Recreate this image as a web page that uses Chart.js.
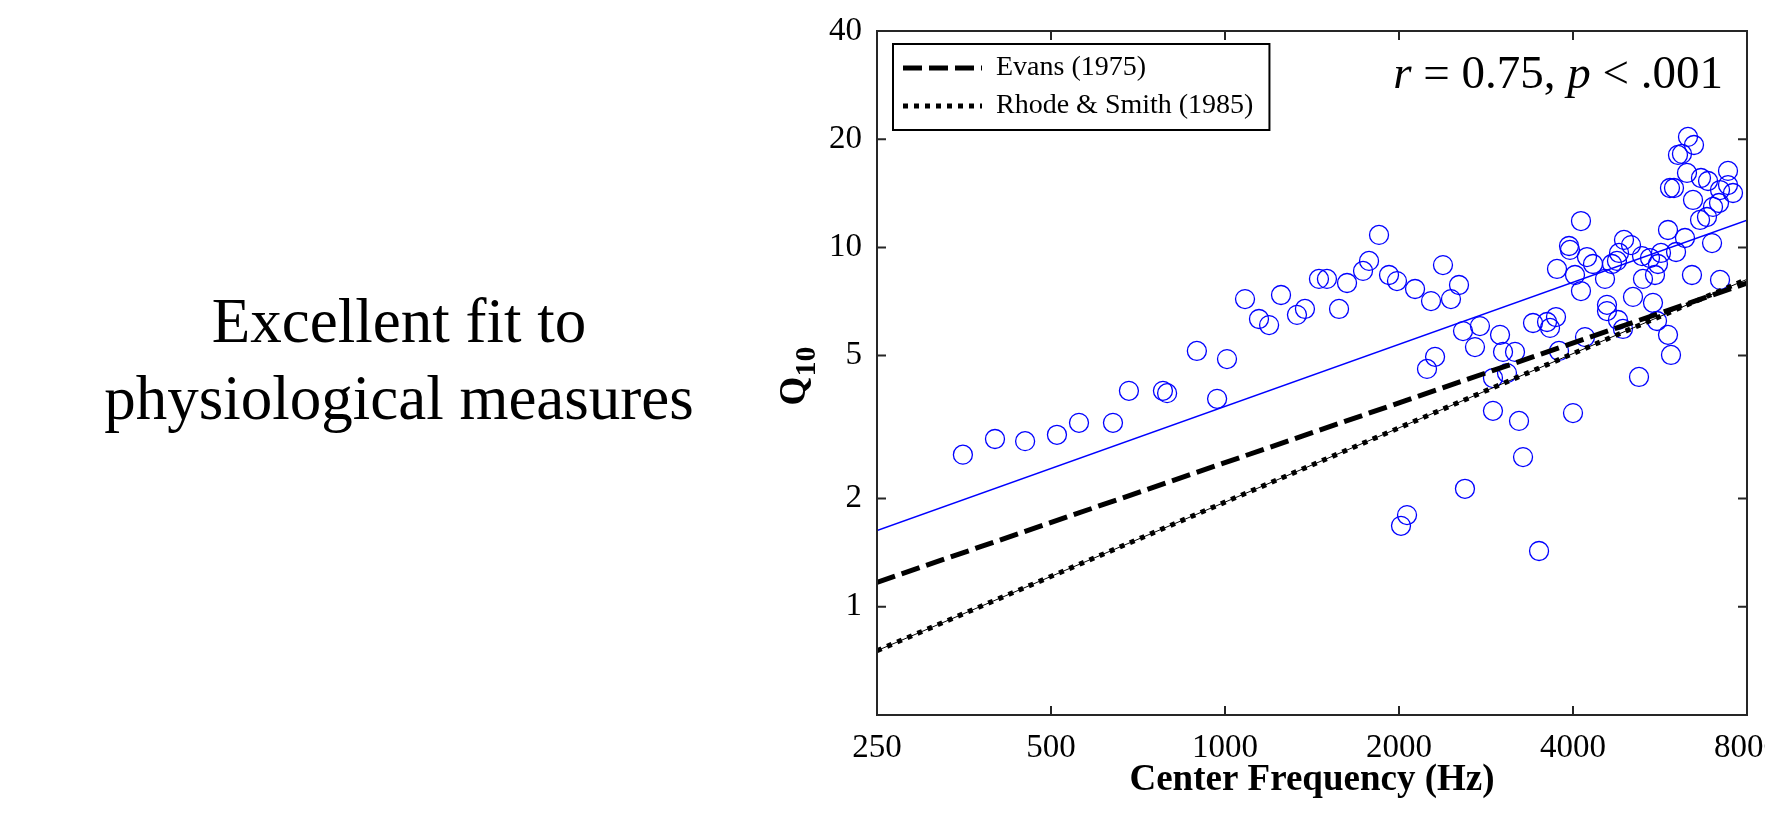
<!DOCTYPE html>
<html>
<head>
<meta charset="utf-8">
<title>Q10 vs center frequency</title>
<script src="https://cdn.jsdelivr.net/npm/chart.js@4/dist/chart.umd.min.js"></script>
<style>
  html, body {
    margin: 0;
    width: 1765px;
    height: 830px;
    overflow: hidden;
    background: #fff;
  }
  #caption {
    position: absolute;
    left: 0;
    top: 283px;
    width: 798px;
    text-align: center;
    font: 63px "Liberation Serif", "Times New Roman", serif;
    line-height: 77px;
    color: #000;
  }
  #q10Chart {
    position: absolute;
    left: 700px;
    top: 0;
  }
</style>
</head>
<body>
<div id="caption">Excellent fit to<br>physiological measures</div>
<canvas id="q10Chart" width="1100" height="830"></canvas>
<script>
const serif = "'Liberation Serif', 'Times New Roman', serif";

// axis ticks
const xTicks = [250, 500, 1000, 2000, 4000, 8000];
const yTicks = [1, 2, 5, 10, 20, 40];

// measured filters: center frequency (Hz) and Q10
const freqHz = [
  352, 400, 451, 512, 559, 640, 682, 781, 794, 894,
  969, 1008, 1083, 1145, 1192, 1250, 1332, 1375, 1454, 1501,
  1575, 1626, 1733, 1775, 1847, 1922, 1984, 2132, 2272, 2383,
  2460, 2540, 2236, 2309, 2016, 2065, 2581, 2601, 2761, 2707,
  2991, 3027, 3175, 2908, 3075, 2908, 3226, 3278, 3494, 4000,
  3411, 3607, 3650, 3738, 3753, 3783, 3937, 3952, 4032, 4129,
  4129, 4196, 4229, 4332, 4544, 4580, 4580, 4672, 4766, 4805,
  4901, 5040, 4785, 4881, 5080, 5203, 5266, 5286, 5436, 5611,
  5679, 5545, 5501, 5590, 5840, 5910, 5840, 6030, 6249, 6425,
  6960, 7185, 5886, 5981, 6077, 6174, 6324, 6477, 6299, 6452,
  6660, 6850, 6635, 6821, 6987, 7156, 7185, 7417, 7417, 7566
];
const q10 = [
  2.65, 2.93, 2.89, 3.01, 3.25, 3.25, 3.99, 3.99, 3.93, 5.15,
  3.79, 4.89, 7.18, 6.32, 6.08, 7.37, 6.49, 6.74, 8.17, 8.17,
  6.74, 7.96, 8.60, 9.17, 10.83, 8.38, 8.06, 7.66, 7.09, 8.93,
  7.18, 7.86, 4.59, 4.96, 1.68, 1.80, 5.85, 2.13, 6.04, 5.28,
  5.71, 5.12, 5.12, 4.33, 4.47, 3.51, 3.29, 2.61, 1.43, 3.46,
  6.16, 6.20, 5.97, 6.40, 8.71, 5.15, 10.09, 9.84, 8.38, 11.84,
  7.56, 5.63, 9.40, 8.99, 8.17, 6.92, 6.65, 8.99, 9.17, 9.65,
  10.49, 10.15, 6.28, 5.93, 7.28, 4.36, 9.46, 8.17, 9.34, 8.99,
  9.65, 8.38, 7.01, 6.24, 5.71, 5.02, 11.18, 9.71, 10.62, 8.38,
  10.28, 8.12, 14.63, 14.63, 18.08, 18.20, 20.29, 19.27, 16.11, 13.55,
  15.60, 15.30, 11.92, 12.15, 12.96, 13.29, 14.44, 14.91, 16.32, 14.17
];

// straight lines in log-log space: end points at 250 Hz and 8000 Hz
const lineFreq = [250, 8000];
const fitQ = [1.63, 11.9];
const evansQ = [1.17, 7.95];
const rhodeQ = [0.755, 8.15];

const toPoints = (xs, ys) => xs.map((x, i) => ({ x, y: ys[i] }));

// box around the axes with short inward ticks on all four sides
const frameTicks = {
  id: "frameTicks",
  afterDatasetsDraw(chart) {
    const { ctx, chartArea: a, scales } = chart;
    const len = 9;
    ctx.save();
    ctx.strokeStyle = "#262626";
    ctx.lineWidth = 2;
    ctx.strokeRect(a.left, a.top, a.right - a.left, a.bottom - a.top);
    ctx.beginPath();
    xTicks.forEach((v) => {
      const px = scales.x.getPixelForValue(v);
      ctx.moveTo(px, a.bottom);
      ctx.lineTo(px, a.bottom - len);
      ctx.moveTo(px, a.top);
      ctx.lineTo(px, a.top + len);
    });
    yTicks.forEach((v) => {
      const py = scales.y.getPixelForValue(v);
      ctx.moveTo(a.left, py);
      ctx.lineTo(a.left + len, py);
      ctx.moveTo(a.right, py);
      ctx.lineTo(a.right - len, py);
    });
    ctx.stroke();
    ctx.restore();
  },
};

// legend sits inside the plot, top left, with a box round it
const legendBox = {
  id: "legendBox",
  afterLayout(chart) {
    chart.legend.left = chart.chartArea.left + 16;
    chart.legend.top = chart.chartArea.top + 13;
  },
  afterDraw(chart) {
    const lg = chart.legend;
    const boxes = lg.legendHitBoxes || [];
    if (!boxes.length) return;
    const pad = lg.options.labels.padding;
    const right = Math.max(...boxes.map((b) => b.left + b.width)) + 16;
    const bottom = Math.max(...boxes.map((b) => b.top + b.height)) + pad;
    const { ctx } = chart;
    ctx.save();
    ctx.strokeStyle = "#000";
    ctx.lineWidth = 2;
    ctx.strokeRect(lg.left, lg.top, right - lg.left, bottom - lg.top);
    ctx.restore();
  },
};

// y title with subscript, and the correlation note
const extraText = {
  id: "extraText",
  afterDraw(chart) {
    const { ctx, chartArea: a } = chart;
    ctx.save();
    ctx.fillStyle = "#000";
    ctx.textBaseline = "alphabetic";

    // "Q10", rotated, subscript shifted towards the axis
    ctx.save();
    ctx.font = `bold 37px ${serif}`;
    const qW = ctx.measureText("Q").width;
    ctx.font = `bold 30px ${serif}`;
    const subW = ctx.measureText("10").width;
    const midY = (a.top + a.bottom) / 2 + 3;
    ctx.translate(a.left - 72, midY + (qW + subW) / 2);
    ctx.rotate(-Math.PI / 2);
    ctx.font = `bold 37px ${serif}`;
    ctx.fillText("Q", 0, 0);
    ctx.font = `bold 30px ${serif}`;
    ctx.fillText("10", qW, 10);
    ctx.restore();

    // r = 0.75, p < .001
    const parts = [
      ["r", "italic"],
      [" = 0.75, ", "normal"],
      ["p", "italic"],
      [" < .001", "normal"],
    ];
    const widths = parts.map(([t, s]) => {
      ctx.font = `${s} 47px ${serif}`;
      return ctx.measureText(t).width;
    });
    let x = a.right - 24 - widths.reduce((s, w) => s + w, 0);
    const y = a.top + 57;
    parts.forEach(([t, s], i) => {
      ctx.font = `${s} 47px ${serif}`;
      ctx.fillText(t, x, y);
      x += widths[i];
    });
    ctx.restore();
  },
};

const blue = "rgb(0, 0, 255)";

new Chart(document.getElementById("q10Chart"), {
  type: "scatter",
  data: {
    datasets: [
      {
        label: "Evans (1975)",
        data: toPoints(lineFreq, evansQ),
        showLine: true,
        borderColor: "#000",
        borderWidth: 5,
        borderDash: [19, 7],
        pointRadius: 0,
      },
      {
        label: "Rhode & Smith (1985)",
        data: toPoints(lineFreq, rhodeQ),
        showLine: true,
        borderColor: "#000",
        borderWidth: 5,
        borderDash: [5, 6],
        pointRadius: 0,
      },
      {
        label: "Rhode & Smith trace",
        data: toPoints(lineFreq, rhodeQ),
        showLine: true,
        borderColor: "#000",
        borderWidth: 1,
        pointRadius: 0,
      },
      {
        label: "Fit",
        data: toPoints(lineFreq, fitQ),
        showLine: true,
        borderColor: blue,
        borderWidth: 1.4,
        pointRadius: 0,
      },
      {
        label: "Q10",
        data: toPoints(freqHz, q10),
        pointStyle: "circle",
        pointRadius: 9.5,
        pointHoverRadius: 9.5,
        borderColor: blue,
        backgroundColor: "rgba(0,0,0,0)",
        borderWidth: 1.3,
      },
    ],
  },
  options: {
    responsive: false,
    animation: false,
    devicePixelRatio: 1,
    layout: { padding: { left: 77, right: 53, top: 31, bottom: 0 } },
    plugins: {
      tooltip: { enabled: false },
      legend: {
        position: "chartArea",
        align: "start",
        labels: {
          usePointStyle: true,
          pointStyle: "line",
          pointStyleWidth: 79,
          padding: 10,
          color: "#000",
          font: { family: serif, size: 28 },
          generateLabels(chart) {
            const base = Chart.defaults.plugins.legend.labels.generateLabels(chart);
            return base
              .filter((item) => item.datasetIndex < 2)
              .map((item) => {
                const ds = chart.data.datasets[item.datasetIndex];
                return {
                  ...item,
                  pointStyle: "line",
                  lineDash: ds.borderDash,
                  lineWidth: ds.borderWidth,
                  strokeStyle: ds.borderColor,
                  fillStyle: ds.borderColor,
                };
              });
          },
        },
      },
    },
    scales: {
      x: {
        type: "logarithmic",
        min: 250,
        max: 8000,
        grid: { display: false },
        border: { display: false },
        afterBuildTicks: (scale) => {
          scale.ticks = xTicks.map((value) => ({ value }));
        },
        afterFit: (scale) => {
          scale.height = 115;
          scale.paddingLeft = 0;
          scale.paddingRight = 0;
        },
        ticks: {
          autoSkip: false,
          maxRotation: 0,
          minRotation: 0,
          padding: 6,
          color: "#000",
          font: { family: serif, size: 33 },
          callback: (v) => String(v),
        },
        title: {
          display: true,
          text: "Center Frequency (Hz)",
          color: "#000",
          font: { family: serif, size: 37, weight: "bold" },
          padding: { top: 0, bottom: 27 },
        },
      },
      y: {
        type: "logarithmic",
        min: 0.5,
        max: 40,
        grid: { display: false },
        border: { display: false },
        afterBuildTicks: (scale) => {
          scale.ticks = yTicks.map((value) => ({ value }));
        },
        afterFit: (scale) => {
          scale.width = 100;
          scale.paddingTop = 0;
          scale.paddingBottom = 0;
        },
        ticks: {
          autoSkip: false,
          padding: 7,
          color: "#000",
          font: { family: serif, size: 33 },
          callback: (v) => String(v),
        },
      },
    },
  },
  plugins: [frameTicks, legendBox, extraText],
});
</script>
</body>
</html>
